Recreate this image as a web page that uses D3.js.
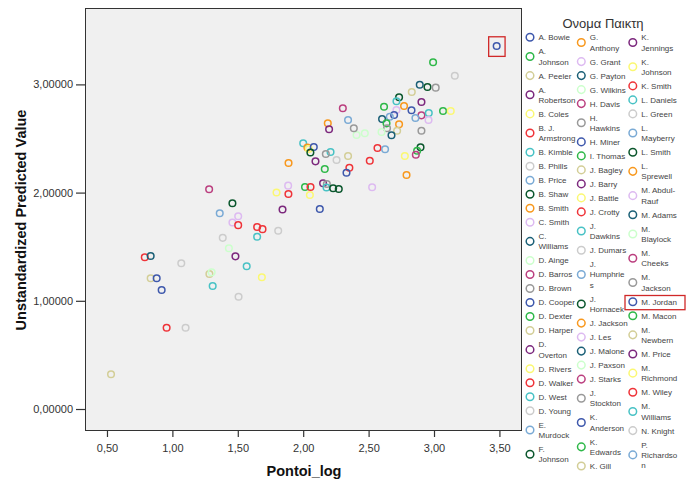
<!DOCTYPE html>
<html>
<head>
<meta charset="utf-8">
<script src="https://cdn.jsdelivr.net/npm/d3@7"></script>
<style>
  html, body { margin: 0; padding: 0; background: #ffffff; }
  svg { display: block; font-family: "Liberation Sans", Arial, sans-serif; }
</style>
</head>
<body>
<svg id="chart" width="689" height="483"></svg>
<script>
// ---------- DATA ----------
const players = [
  "A. Bowie","A. Johnson","A. Peeler","A. Robertson","B. Coles","B. J. Armstrong","B. Kimble","B. Phills",
  "B. Price","B. Shaw","B. Smith","C. Smith","C. Williams","D. Ainge","D. Barros","D. Brown",
  "D. Cooper","D. Dexter","D. Harper","D. Overton","D. Rivers","D. Walker","D. West","D. Young",
  "E. Murdock","F. Johnson","G. Anthony","G. Grant","G. Payton","G. Wilkins","H. Davis","H. Hawkins",
  "H. Miner","I. Thomas","J. Bagley","J. Barry","J. Battle","J. Crotty","J. Dawkins","J. Dumars",
  "J. Humphries","J. Hornacek","J. Jackson","J. Les","J. Malone","J. Paxson","J. Starks","J. Stockton",
  "K. Anderson","K. Edwards","K. Gill","K. Jennings","K. Johnson","K. Smith","L. Daniels","L. Green",
  "L. Mayberry","L. Smith","L. Sprewell","M. Abdul-Rauf","M. Adams","M. Blaylock","M. Cheeks","M. Jackson",
  "M. Jordan","M. Macon","M. Newbern","M. Price","M. Richmond","M. Wiley","M. Williams","N. Knight",
  "P. Richardson"
];
// legend labels as displayed (wrapped lines separated by \n)
const legendLabels = [
  "A. Bowie","A.\nJohnson","A. Peeler","A.\nRobertson","B. Coles","B. J.\nArmstrong","B. Kimble","B. Phills",
  "B. Price","B. Shaw","B. Smith","C. Smith","C.\nWilliams","D. Ainge","D. Barros","D. Brown",
  "D. Cooper","D. Dexter","D. Harper","D.\nOverton","D. Rivers","D. Walker","D. West","D. Young",
  "E.\nMurdock","F.\nJohnson","G.\nAnthony","G. Grant","G. Payton","G. Wilkins","H. Davis","H.\nHawkins",
  "H. Miner","I. Thomas","J. Bagley","J. Barry","J. Battle","J. Crotty","J.\nDawkins","J. Dumars",
  "J.\nHumphrie\ns","J.\nHornacek","J. Jackson","J. Les","J. Malone","J. Paxson","J. Starks","J.\nStockton",
  "K.\nAnderson","K.\nEdwards","K. Gill","K.\nJennings","K.\nJohnson","K. Smith","L. Daniels","L. Green",
  "L.\nMayberry","L. Smith","L.\nSprewell","M. Abdul-\nRauf","M. Adams","M.\nBlaylock","M.\nCheeks","M.\nJackson",
  "M. Jordan","M. Macon","M.\nNewbern","M. Price","M.\nRichmond","M. Wiley","M.\nWilliams","N. Knight",
  "P.\nRichardso\nn"
];
const legendTitle = "Ονομα Παικτη";
const highlighted = "M. Jordan";

const pointPlayer = [
  "M. Jordan","A. Johnson","B. Phills","C. Williams","B. Shaw","D. Brown","A. Peeler","F. Johnson",
  "B. Kimble","D. Dexter","B. Smith","A. Robertson","A. Bowie","D. Barros","D. West","I. Thomas",
  "B. Coles","C. Smith","B. Price","G. Grant","D. Cooper","E. Murdock","G. Payton","K. Edwards",
  "G. Anthony","H. Hawkins","D. Harper","J. Malone","J. Stockton","D. Ainge","G. Wilkins","J. Paxson",
  "H. Davis","J. Humphries","M. Jackson","J. Jackson","D. Overton","J. Hornacek","M. Macon","J. Starks",
  "D. Rivers","B. J. Armstrong","L. Mayberry","D. Walker","L. Sprewell","J. Dawkins","D. Young","J. Bagley",
  "J. Crotty","H. Miner","L. Daniels","B. Smith","J. Battle","K. Anderson","L. Smith","D. Brown",
  "J. Barry","G. Anthony","A. Johnson","J. Les","K. Johnson","K. Smith","D. Dexter","M. Wiley",
  "M. Richmond","K. Jennings","H. Hawkins","M. Williams","B. Shaw","F. Johnson","M. Abdul-Rauf","M. Price",
  "A. Bowie","M. Cheeks","J. Hornacek","P. Richardson","C. Smith","G. Grant","B. J. Armstrong","D. Walker",
  "J. Crotty","B. Kimble","J. Dumars","L. Green","M. Blaylock","A. Robertson","D. West","N. Knight",
  "K. Gill","D. Ainge","B. Coles","J. Dawkins","B. Phills","K. Smith","M. Adams","M. Newbern",
  "D. Cooper","H. Miner","M. Wiley","D. Young","A. Peeler"
];
const pontoiLog = [
  3.479,2.993,3.159,2.891,2.950,3.013,2.830,2.733,
  2.713,2.618,2.771,2.904,2.828,2.904,2.960,3.069,
  3.128,2.958,2.858,2.713,2.695,2.662,2.603,2.637,
  2.733,2.641,2.718,2.675,2.904,2.408,2.471,2.599,
  2.303,2.343,2.387,2.188,2.198,2.897,2.871,2.861,
  2.777,2.568,2.626,2.509,2.790,2.209,2.255,2.343,
  2.353,2.331,2.000,2.032,2.043,2.081,2.055,2.173,
  2.094,1.888,2.165,1.885,1.796,1.887,2.014,2.056,
  2.051,2.152,2.181,2.178,2.229,2.272,2.527,1.842,
  2.127,1.281,1.459,1.362,1.503,1.459,1.503,1.648,
  1.689,1.648,1.809,1.385,1.432,1.482,1.568,1.068,
  1.283,1.300,1.684,1.308,1.506,0.789,0.834,0.834,
  0.880,0.918,0.956,1.101,0.531
];
const predictedValue = [
  3.355,3.204,3.080,2.997,2.976,2.970,2.930,2.881,
  2.844,2.794,2.800,2.837,2.761,2.714,2.736,2.754,
  2.754,2.671,2.689,2.763,2.717,2.701,2.680,2.640,
  2.631,2.594,2.572,2.530,2.572,2.532,2.548,2.560,
  2.779,2.671,2.594,2.640,2.585,2.419,2.387,2.350,
  2.338,2.412,2.400,2.295,2.163,2.375,2.301,2.338,
  2.230,2.184,2.456,2.417,2.403,2.421,2.371,2.357,
  2.289,2.274,2.218,2.064,2.001,1.987,2.052,2.052,
  1.978,2.086,2.079,2.047,2.040,2.033,2.049,1.844,
  1.848,2.031,1.901,1.809,1.781,1.724,1.699,1.682,
  1.662,1.592,1.647,1.582,1.485,1.411,1.319,1.347,
  1.248,1.263,1.218,1.137,1.038,1.403,1.414,1.208,
  1.208,1.100,0.751,0.751,0.321
];
const xTicks = [0.5, 1.0, 1.5, 2.0, 2.5, 3.0, 3.5];
const yTicks = [0, 1, 2, 3];
const xTitle = "Pontoi_log";
const yTitle = "Unstandardized Predicted Value";

const palette = ["#3e58ac","#2eb848","#d3ce97","#7c287d","#fbf873","#ef3338","#48c2c5","#cccccc",
                 "#7aaad5","#0a562c","#f8981d","#ddbaf1","#1a5f76","#ccffcc","#bb3f7f","#999999"];

// ---------- LAYOUT ----------
const svg = d3.select("#chart");
const plot = { left: 85, top: 8, right: 521, bottom: 430 };
const x = d3.scaleLinear().domain([0.332, 3.665]).range([plot.left, plot.right]);
const y = d3.scaleLinear().domain([-0.194, 3.706]).range([plot.bottom, plot.top]);
const color = d3.scaleOrdinal(players, palette);
const comma = f => d => d3.format(f)(d).replace(".", ",");

// plot background
svg.append("rect")
  .attr("x", plot.left).attr("y", plot.top)
  .attr("width", plot.right - plot.left).attr("height", plot.bottom - plot.top)
  .attr("fill", "#f0f0f0");

// axes
const xAxis = svg.append("g")
  .attr("transform", `translate(0,${plot.bottom})`)
  .call(d3.axisBottom(x).tickValues(xTicks).tickFormat(comma(".2f")).tickSize(7).tickPadding(7));
const yAxis = svg.append("g")
  .attr("transform", `translate(${plot.left},0)`)
  .call(d3.axisLeft(y).tickValues(yTicks).tickFormat(comma(".5f")).tickSize(9).tickPadding(3));
[xAxis, yAxis].forEach(g => {
  g.select(".domain").remove();
  g.selectAll(".tick line").attr("stroke", "#333").attr("stroke-width", 1.2);
  g.selectAll(".tick text").attr("fill", "#333").style("font-size", "11px")
    .style("font-family", "'Liberation Sans', Arial, sans-serif");
});

// frame
svg.append("rect")
  .attr("x", plot.left + 0.5).attr("y", plot.top + 0.5)
  .attr("width", plot.right - plot.left).attr("height", plot.bottom - plot.top)
  .attr("fill", "none").attr("stroke", "#333").attr("stroke-width", 1);

// axis titles
svg.append("text")
  .attr("x", (plot.left + plot.right) / 2 + 1).attr("y", 476)
  .attr("text-anchor", "middle").attr("font-weight", "bold")
  .style("font-size", "14.5px").attr("fill", "#111").text(xTitle);
svg.append("text")
  .attr("transform", `translate(26,${(plot.top + plot.bottom) / 2 + 1}) rotate(-90)`)
  .attr("text-anchor", "middle").attr("font-weight", "bold")
  .style("font-size", "14.5px").attr("fill", "#111").text(yTitle);

// points
const pts = pointPlayer.map((p, i) => ({ player: p, x: pontoiLog[i], y: predictedValue[i] }));
svg.append("g").selectAll("circle").data(pts).join("circle")
  .attr("cx", d => x(d.x)).attr("cy", d => y(d.y)).attr("r", 3.3)
  .attr("fill", "none").attr("stroke", d => color(d.player)).attr("stroke-width", 1.5);

// highlight of the chosen player's point(s)
pts.filter(d => d.player === highlighted).forEach(d => {
  svg.append("rect")
    .attr("x", x(d.x) - 8).attr("y", y(d.y) - 9.2)
    .attr("width", 16.4).attr("height", 19.6)
    .attr("fill", "none").attr("stroke", "#d02828").attr("stroke-width", 1.3);
});

// ---------- LEGEND ----------
svg.append("text")
  .attr("x", 603).attr("y", 28).attr("text-anchor", "middle")
  .style("font-size", "13px").attr("fill", "#333").text(legendTitle);

const colCircleX = [530, 581.3, 632.8];
const legTop = 30.3, legLimit = 480, lineH = 10.3, itemPad = 3.7;
let col = 0, cy = legTop;
const legend = svg.append("g");
players.forEach((p, i) => {
  const lines = legendLabels[i].split("\n");
  const h = itemPad + lineH * lines.length;
  if (cy + h > legLimit) { col += 1; cy = legTop; }
  const cx = colCircleX[col];
  const center = cy + h / 2;
  legend.append("circle")
    .attr("cx", cx).attr("cy", center).attr("r", 3.8)
    .attr("fill", "none").attr("stroke", color(p)).attr("stroke-width", 1.5);
  const t = legend.append("text")
    .attr("x", cx + 8.5).style("font-size", "8px").attr("fill", "#444");
  lines.forEach((ln, k) => {
    t.append("tspan").attr("x", cx + 8.5)
      .attr("y", center + (k - (lines.length - 1) / 2) * lineH + 2.9)
      .text(ln);
  });
  if (p === highlighted) {
    legend.append("rect")
      .attr("x", cx - 7.8).attr("y", center - 6.2)
      .attr("width", 60).attr("height", 14.2)
      .attr("fill", "none").attr("stroke", "#d02828").attr("stroke-width", 1.3);
  }
  cy += h;
});
</script>
</body>
</html>
